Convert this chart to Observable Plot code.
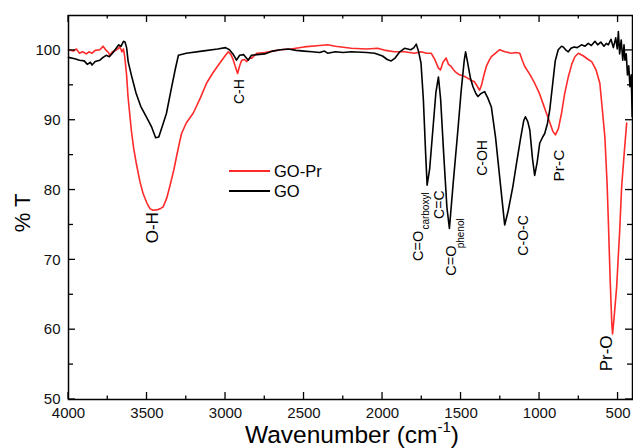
<!DOCTYPE html>
<html><head><meta charset="utf-8">
<script src="https://cdn.jsdelivr.net/npm/d3@7"></script>
<script src="https://cdn.jsdelivr.net/npm/@observablehq/plot@0.6"></script>
<style>
body{margin:0;background:#fff;}
#chart svg{font-family:"Liberation Sans",Arial,sans-serif;display:block;}
</style>
</head><body><div id="chart"></div>
<script>
// GO (black) spectrum
const goWavenumber = [4000,3960,3930,3900,3880,3860,3850,3830,3800,3780,3760,3740,3720,3700,3680,3665,3650,3640,3630,3620,3600,3570,3540,3505,3470,3445,3425,3400,3376,3350,3320,3300,3250,3150,3050,3000,2975,2950,2930,2910,2885,2870,2855,2835,2800,2750,2700,2650,2600,2550,2500,2450,2400,2370,2350,2300,2250,2200,2100,2050,2000,1970,1945,1920,1890,1860,1820,1800,1785,1770,1755,1740,1725,1716,1700,1680,1660,1644,1630,1610,1590,1574,1550,1520,1500,1480,1471,1460,1440,1424,1405,1392,1375,1350,1330,1307,1280,1250,1222,1200,1170,1147,1120,1100,1090,1075,1062,1045,1031,1015,999,980,967,950,935,915,900,881,860,849,830,817,800,780,760,733,710,690,670,647,630,610,590,575,562,545,530,515,505,498,490,480,470,462,456,448,440,432,424,416,410];
const goT = [99.0,98.8,98.6,98.5,98.0,98.3,97.9,98.4,98.6,99.0,99.3,99.1,99.6,100.2,100.8,100.6,101.3,101.2,100.4,98.4,96.5,93.9,92.0,90.5,89.0,87.5,87.6,89.3,91.0,94.0,97.3,99.3,99.6,99.9,100.2,100.4,100.1,99.4,98.6,99.3,99.4,99.0,98.6,99.3,99.4,99.5,99.9,100.1,100.2,100.0,99.9,99.8,99.7,99.9,99.6,99.8,99.7,99.8,99.7,99.6,99.2,98.7,98.5,98.9,99.8,100.3,100.1,100.4,100.9,99.8,98.2,93.0,85.0,80.7,83.0,88.5,94.0,96.2,93.0,85.0,77.5,74.5,81.0,88.6,94.0,98.5,99.8,98.5,96.0,94.8,93.8,93.4,93.8,94.1,93.2,91.9,87.5,81.0,75.0,77.0,80.5,83.8,87.5,90.0,90.5,89.8,88.6,84.5,82.1,84.0,86.7,87.6,88.1,89.5,91.5,95.5,98.5,100.1,100.6,100.5,100.0,99.8,100.3,100.5,100.4,100.8,100.6,101.0,100.7,101.3,100.8,101.2,100.6,101.0,100.8,101.6,100.4,101.8,100.2,102.7,99.5,101.5,98.6,100.8,98.6,99.5,96.5,97.8,94.8,96.5,90.5];
// GO-Pr (red) spectrum
const goprWavenumber = [4000,3970,3950,3930,3910,3887,3870,3850,3830,3800,3780,3760,3745,3738,3720,3700,3680,3674,3660,3650,3642,3630,3621,3600,3585,3568,3545,3525,3500,3480,3461,3430,3410,3397,3375,3355,3330,3312,3295,3280,3250,3206,3160,3121,3080,3036,3000,2982,2965,2950,2935,2923,2910,2897,2880,2865,2845,2833,2801,2750,2700,2650,2584,2500,2400,2350,2300,2200,2100,2031,1980,1925,1860,1797,1754,1720,1690,1665,1645,1631,1615,1595,1580,1563,1540,1510,1480,1456,1435,1414,1395,1382,1370,1355,1339,1320,1307,1280,1254,1220,1180,1150,1126,1110,1094,1060,1031,1000,975,956,935,915,899,880,860,840,817,795,775,753,720,690,668,640,616,600,584,570,562,550,540,535,525,509,490,477,460,445];
const goprT = [100.1,99.9,100.2,99.6,99.8,99.5,99.8,99.6,100.0,100.1,100.6,100.0,99.7,99.3,99.8,100.0,100.3,100.6,99.8,100.2,99.1,96.5,93.4,88.6,86.0,83.8,81.2,79.5,78.1,77.3,77.1,77.2,77.4,77.6,78.8,80.5,82.8,84.8,86.6,88.1,89.6,91.0,93.2,95.3,96.8,98.2,99.3,99.8,99.4,98.6,97.5,96.7,97.8,98.6,98.7,98.4,98.9,98.9,99.6,99.7,99.9,100.1,100.2,100.5,100.7,100.8,100.6,100.3,100.2,100.3,100.0,99.8,99.8,99.6,99.8,99.6,99.6,98.6,97.5,97.2,98.3,98.9,98.0,97.7,97.0,96.5,96.3,96.0,95.7,95.5,94.8,94.3,95.0,96.4,97.7,98.6,99.1,99.6,100.1,99.8,99.6,99.7,99.6,98.6,97.7,96.5,95.3,93.8,92.2,91.0,89.7,88.4,87.9,88.8,91.0,93.8,96.2,98.0,99.1,99.6,99.2,98.7,98.4,97.2,95.3,91.5,87.6,81.0,75.7,67.0,61.0,59.4,61.8,66.1,74.0,80.5,85.5,89.6];

const seriesNames = ["GO-Pr", "GO"];
const seriesColors = ["#ff2a2a", "#000000"];

const xTicks = [4000,3500,3000,2500,2000,1500,1000,500];
const xMinorTicks = [3750,3250,2750,2250,1750,1250,750];
const yTicks = [50,60,70,80,90,100];
const yMinorTicks = [55,65,75,85,95];

// peak annotations
const annLabels = ["O-H","C-H","C=O","C=C","C=O","C-OH","C-O-C","Pr-C","Pr-O"];
const annWavenumber = [3467,2908,1771,1637,1561,1365,1103,877,573];
const annT = [74.6,94.1,72.0,77.9,69.9,84.6,73.5,83.5,56.6];
const subLabels = ["carboxyl","phenol"];
const subWavenumber = [1722,1503];
const subT = [77.0,73.8];

const big = new Set(["O-H","Pr-O"]);
const annData = annLabels.map((t,i)=>({t, x:annWavenumber[i], y:annT[i],
  fs: big.has(t) ? 17 : (t==="Pr-C" ? 15.5 : (t==="C=O" ? 14.5 : 14))}));
const subData = subLabels.map((t,i)=>({t, x:subWavenumber[i], y:subT[i]}));
const goData = goWavenumber.map((x,i)=>({x, y:goT[i]}));
const goprData = goprWavenumber.map((x,i)=>({x, y:goprT[i]}));

const W = 633, H = 448;
const chart = Plot.plot({
  width: W, height: H,
  marginTop: 15, marginBottom: 49, marginLeft: 68, marginRight: 1,
  style: {fontFamily: "'Liberation Sans', Arial, sans-serif", fontSize: "15px", background: "#fff", overflow: "visible"},
  x: {domain: [4000, 408]},
  y: {domain: [50, 105]},
  marks: [
    Plot.axisX({ticks: xTicks, tickSize: 0, tickPadding: 8, tickFormat: d => String(d), label: null, fontSize: 15, fill: "#111"}),
    Plot.axisY({ticks: yTicks, tickSize: 0, tickPadding: 8, tickFormat: d => String(d), label: null, fontSize: 15, fill: "#111"}),
    Plot.line(goprData, {x: "x", y: "y", stroke: seriesColors[0], strokeWidth: 1.6, curve: "linear"}),
    Plot.line(goData, {x: "x", y: "y", stroke: seriesColors[1], strokeWidth: 1.6, curve: "linear"}),
    Plot.text(annData, {x: "x", y: "y", text: "t", rotate: -90, fontSize: "fs", textAnchor: "middle", lineAnchor: "middle", fill: "#000"}),
    Plot.text(subData, {x: "x", y: "y", text: "t", rotate: -90, fontSize: 10, textAnchor: "middle", lineAnchor: "middle", fill: "#000"}),
    Plot.frame({stroke: "#000", strokeWidth: 1.5})
  ]
});
document.getElementById("chart").appendChild(chart);

// inward ticks on all four sides, from the scales
const sx = chart.scale("x"), sy = chart.scale("y");
const svg = d3.select(chart);
const [x0, x1] = sx.range, [y0, y1] = sy.range; // y0 bottom, y1 top
const tg = svg.append("g").attr("stroke", "#000").attr("stroke-width", 1.3);
function xt(v, len){
  const px = sx.apply(v);
  tg.append("line").attr("x1", px).attr("x2", px).attr("y1", y0).attr("y2", y0 - len);
  tg.append("line").attr("x1", px).attr("x2", px).attr("y1", y1).attr("y2", y1 + len);
}
function yt(v, len){
  const py = sy.apply(v);
  tg.append("line").attr("y1", py).attr("y2", py).attr("x1", x0).attr("x2", x0 + len);
  tg.append("line").attr("y1", py).attr("y2", py).attr("x1", x1).attr("x2", x1 - len);
}
xTicks.forEach(v => xt(v, 7));
xMinorTicks.forEach(v => xt(v, 3.5));
yTicks.forEach(v => yt(v, 7));
yMinorTicks.forEach(v => yt(v, 5));

// legend
const lg = svg.append("g").attr("font-size", 16.5).attr("text-anchor", "start")
  .attr("font-family", "'Liberation Sans', Arial, sans-serif");
seriesNames.forEach((name, i) => {
  const yy = 171 + i * 20;
  lg.append("line").attr("x1", 229).attr("x2", 270).attr("y1", yy).attr("y2", yy)
    .attr("stroke", seriesColors[i]).attr("stroke-width", 1.8);
  lg.append("text").attr("x", 274).attr("y", yy).attr("dy", "0.36em").attr("fill", "#000").text(name);
});

// axis titles
const xt2 = svg.append("text").attr("x", (x0 + x1) / 2 + 2).attr("y", 443)
  .attr("text-anchor", "middle").attr("font-size", 24.5).attr("fill", "#000");
xt2.append("tspan").text("Wavenumber (cm");
xt2.append("tspan").attr("font-size", 15).attr("dy", -11).text("-1");
xt2.append("tspan").attr("dy", 11).text(")");
svg.append("text").attr("transform", `translate(30,${(y0 + y1) / 2 + 6}) rotate(-90)`)
  .attr("text-anchor", "middle").attr("font-size", 22).attr("fill", "#000").text("% T");
</script>
</body></html>
